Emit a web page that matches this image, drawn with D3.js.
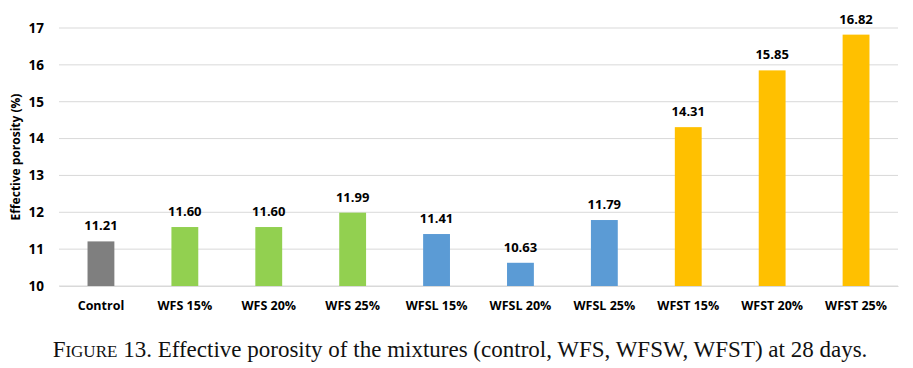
<!DOCTYPE html>
<html><head><meta charset="utf-8">
<script src="https://cdn.jsdelivr.net/npm/d3@7"></script>
<style>body{margin:0;background:#fff}</style>
</head><body><svg id="c" width="913" height="368"></svg>
<script>
const categories = ["Control","WFS 15%","WFS 20%","WFS 25%","WFSL 15%","WFSL 20%","WFSL 25%","WFST 15%","WFST 20%","WFST 25%"];
const values = [11.21,11.60,11.60,11.99,11.41,10.63,11.79,14.31,15.85,16.82];
const groups = ["control","WFS","WFS","WFS","WFSL","WFSL","WFSL","WFST","WFST","WFST"];
const groupColors = {control:"#7f7f7f",WFS:"#92d050",WFSL:"#5b9bd5",WFST:"#ffc000"};
const yTicks = [10,11,12,13,14,15,16,17];

(function(){
const svg = d3.select("#c");
const mL=59,mR=898,mT=28,mB=286;
const x = d3.scaleBand().domain(categories).range([mL,mR]).paddingInner(0.68).paddingOuter(0.34);
const y = d3.scaleLinear().domain([10,17]).range([mB,mT]);
const font = "'Open Sans', 'DejaVu Sans', sans-serif";

svg.append("g").selectAll("line").data(yTicks).join("line")
  .attr("x1",mL).attr("x2",mR).attr("y1",d=>y(d)).attr("y2",d=>y(d))
  .attr("stroke","#d9d9d9").attr("stroke-width",1);

const ya = svg.append("g").attr("transform",`translate(${mL-7},0)`)
  .call(d3.axisLeft(y).tickValues(yTicks).tickFormat(d3.format("d")).tickSize(0).tickPadding(8));
ya.select(".domain").remove();
ya.selectAll("text").attr("font-family",font).attr("font-size",13.5).attr("font-weight","bold").attr("fill","#000");

svg.append("g").selectAll("rect").data(categories).join("rect")
  .attr("x",d=>x(d)).attr("width",x.bandwidth())
  .attr("y",(d,i)=>y(values[i])).attr("height",(d,i)=>y(10)-y(values[i]))
  .attr("fill",(d,i)=>groupColors[groups[i]]);

svg.append("g").selectAll("text").data(categories).join("text")
  .attr("x",d=>x(d)+x.bandwidth()/2).attr("y",(d,i)=>y(values[i])-11)
  .attr("text-anchor","middle").attr("font-family",font).attr("font-size",13).attr("font-weight","bold")
  .text((d,i)=>values[i].toFixed(2));

const xa = svg.append("g").attr("transform",`translate(0,${mB})`)
  .call(d3.axisBottom(x).tickSize(0).tickPadding(15));
xa.select(".domain").attr("stroke","#d9d9d9");
xa.selectAll("text").attr("font-family",font).attr("font-size",12.5).attr("font-weight","bold").attr("fill","#000");

svg.append("text").attr("transform","translate(20,157) rotate(-90)")
  .attr("text-anchor","middle").attr("font-family",font).attr("font-size",12).attr("font-weight","bold")
  .text("Effective porosity (%)");

const cap = svg.append("text").attr("x",460).attr("y",357).attr("text-anchor","middle")
  .attr("font-family","'Liberation Serif','Times New Roman',serif").attr("font-size",23).attr("fill","#111");
cap.append("tspan").text("F");
cap.append("tspan").attr("font-size",17).text("IGURE");
cap.append("tspan").text(" 13. Effective porosity of the mixtures (control, WFS, WFSW, WFST) at 28 days.");
})();
</script></body></html>
